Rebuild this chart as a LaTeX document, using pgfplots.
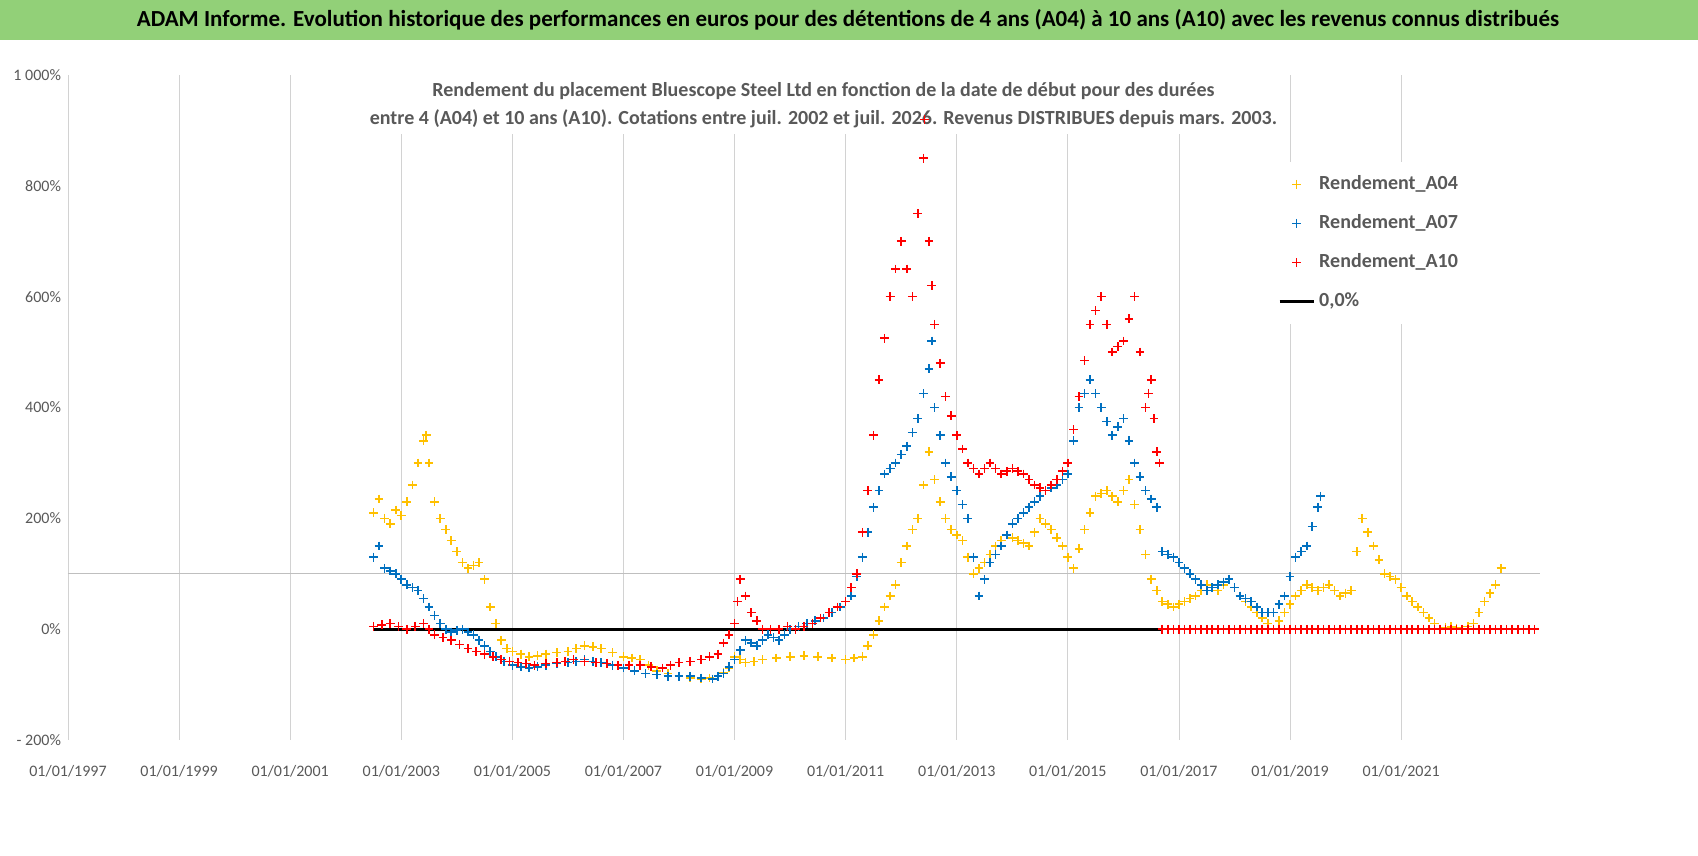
\documentclass[border=0pt]{standalone}
\usepackage{pgfplots}
\pgfplotsset{compat=1.18}
\usepackage{fontspec}
\setmainfont{Carlito}
\definecolor{cA}{RGB}{255,192,0}
\definecolor{cB}{RGB}{0,112,192}
\definecolor{cC}{RGB}{255,0,0}
\definecolor{ban}{RGB}{146,208,120}
\definecolor{tg}{RGB}{89,89,89}
\begin{document}
\begin{tikzpicture}
\path[use as bounding box] (-34pt,-58pt) rectangle (815pt,370pt);
\fill[white] (-34pt,-58pt) rectangle (815pt,370pt);
\fill[ban] (-34pt,350pt) rectangle (815pt,370pt);
\node[font=\bfseries\fontsize{11.5}{13}\selectfont] at (390pt,360pt) {ADAM Informe. Evolution historique des performances en euros pour des détentions de 4 ans (A04) à 10 ans (A10) avec les revenus connus distribués};
\begin{axis}[at={(0,0)},anchor=south west,scale only axis,width=736pt,height=332.5pt,
 xmin=1997,xmax=2023.5,ymin=-200,ymax=1000,
 axis line style={draw=none},tick style={draw=none},
 xtick={1997,1999,...,2021},xticklabels={01/01/1997,01/01/1999,01/01/2001,01/01/2003,01/01/2005,01/01/2007,01/01/2009,01/01/2011,01/01/2013,01/01/2015,01/01/2017,01/01/2019,01/01/2021},
 xmajorgrids,grid style={gray!35},
 ytick={-200,0,200,400,600,800,1000},yticklabels={- 200\%,0\%,200\%,400\%,600\%,800\%,1 000\%},
 ticklabel style={font=\fontsize{8}{9}\selectfont,text=tg},
 xticklabel style={yshift=-9pt},
 /pgf/number format/assume math mode=true,
 legend style={at={(0.815,0.87)},anchor=north west,draw=none,fill=white,font=\bfseries\fontsize{10}{12}\selectfont,text=tg,row sep=7pt,inner sep=5pt},
 legend cell align=left,
 clip=false]
\node[fill=white,align=center,font=\bfseries\fontsize{10}{14}\selectfont,text=tg,anchor=north] at (axis cs:2010.6,1000) {Rendement du placement Bluescope Steel Ltd en fonction de la date de début pour des durées\\entre 4 (A04) et 10 ans (A10). Cotations entre juil. 2002 et juil. 2026. Revenus DISTRIBUES depuis mars. 2003.};
\draw[gray!50] (axis cs:1997,100) -- (axis cs:2023.5,100);
\addplot[only marks,mark=+,mark size=2.2pt,thick,cA] coordinates {
(2002.5,210)(2002.6,235)(2002.7,200)(2002.8,190)(2002.9,215)(2003.0,205)(2003.1,230)(2003.2,260)(2003.3,300)(2003.4,340)(2003.45,350)(2003.5,300)(2003.6,230)(2003.7,200)(2003.8,180)(2003.9,160)(2004.0,140)(2004.1,120)(2004.2,110)(2004.3,115)(2004.4,120)(2004.5,90)(2004.6,40)(2004.7,10)(2004.8,-20)(2004.9,-35)(2005.0,-40)(2005.15,-45)(2005.3,-50)(2005.45,-48)(2005.6,-45)(2005.8,-42)(2006.0,-40)(2006.15,-35)(2006.3,-30)(2006.45,-32)(2006.6,-35)(2006.8,-42)(2007.0,-50)(2007.15,-52)(2007.3,-55)(2007.45,-65)(2007.6,-75)(2007.8,-80)(2008.0,-85)(2008.2,-88)(2008.4,-90)(2008.55,-88)(2008.7,-85)(2008.8,-78)(2008.9,-70)(2009.0,-50)(2009.1,-55)(2009.2,-60)(2009.35,-58)(2009.5,-55)(2009.75,-52)(2010.0,-50)(2010.25,-48)(2010.5,-50)(2010.75,-52)(2011.0,-55)(2011.15,-52)(2011.3,-50)(2011.4,-30)(2011.5,-10)(2011.6,15)(2011.7,40)(2011.8,60)(2011.9,80)(2012.0,120)(2012.1,150)(2012.2,180)(2012.3,200)(2012.4,260)(2012.5,320)(2012.6,270)(2012.7,230)(2012.8,200)(2012.9,180)(2013.0,170)(2013.1,160)(2013.2,130)(2013.3,100)(2013.4,110)(2013.5,120)(2013.6,135)(2013.7,150)(2013.8,160)(2013.9,170)(2014.0,165)(2014.1,160)(2014.2,155)(2014.3,150)(2014.4,175)(2014.5,200)(2014.6,190)(2014.7,180)(2014.8,165)(2014.9,150)(2015.0,130)(2015.1,110)(2015.2,145)(2015.3,180)(2015.4,210)(2015.5,240)(2015.6,245)(2015.7,250)(2015.8,240)(2015.9,230)(2016.0,250)(2016.1,270)(2016.2,225)(2016.3,180)(2016.4,135)(2016.5,90)(2016.6,70)(2016.7,50)(2016.8,45)(2016.9,40)(2017.0,45)(2017.1,50)(2017.2,55)(2017.3,60)(2017.4,70)(2017.5,80)(2017.6,75)(2017.7,70)(2017.8,80)(2017.9,90)(2018.0,75)(2018.1,60)(2018.2,50)(2018.3,40)(2018.4,30)(2018.5,20)(2018.6,10)(2018.7,0)(2018.8,15)(2018.9,30)(2019.0,45)(2019.1,60)(2019.2,70)(2019.3,80)(2019.4,75)(2019.5,70)(2019.6,75)(2019.7,80)(2019.8,70)(2019.9,60)(2020.0,65)(2020.1,70)(2020.2,140)(2020.3,200)(2020.4,175)(2020.5,150)(2020.6,125)(2020.7,100)(2020.8,95)(2020.9,90)(2021.0,75)(2021.1,60)(2021.2,50)(2021.3,40)(2021.4,30)(2021.5,20)(2021.6,10)(2021.7,0)(2021.8,3)(2021.9,5)(2022.0,2)(2022.1,0)(2022.2,5)(2022.3,10)(2022.4,30)(2022.5,50)(2022.6,65)(2022.7,80)(2022.8,110)};
\addlegendentry{Rendement\_A04}
\addplot[only marks,mark=+,mark size=2.2pt,thick,cB] coordinates {
(2002.5,130)(2002.6,150)(2002.7,110)(2002.8,105)(2002.9,100)(2003.0,90)(2003.1,80)(2003.2,75)(2003.3,70)(2003.4,55)(2003.5,40)(2003.6,25)(2003.7,10)(2003.8,0)(2003.9,-5)(2004.0,-2)(2004.1,0)(2004.2,-5)(2004.3,-10)(2004.4,-20)(2004.5,-30)(2004.6,-40)(2004.7,-50)(2004.85,-58)(2005.0,-65)(2005.15,-68)(2005.3,-70)(2005.45,-68)(2005.6,-65)(2005.8,-62)(2006.0,-60)(2006.15,-58)(2006.3,-55)(2006.45,-58)(2006.6,-60)(2006.8,-65)(2007.0,-70)(2007.2,-75)(2007.4,-80)(2007.6,-82)(2007.8,-85)(2008.0,-85)(2008.2,-85)(2008.4,-88)(2008.6,-90)(2008.7,-85)(2008.8,-80)(2008.9,-68)(2009.0,-55)(2009.1,-38)(2009.2,-20)(2009.3,-25)(2009.4,-30)(2009.5,-20)(2009.6,-10)(2009.7,-15)(2009.8,-20)(2009.9,-10)(2010.0,0)(2010.15,5)(2010.3,10)(2010.45,15)(2010.6,20)(2010.75,30)(2010.9,40)(2011.0,50)(2011.1,60)(2011.2,95)(2011.3,130)(2011.4,175)(2011.5,220)(2011.6,250)(2011.7,280)(2011.8,290)(2011.9,300)(2012.0,315)(2012.1,330)(2012.2,355)(2012.3,380)(2012.4,425)(2012.5,470)(2012.55,520)(2012.6,400)(2012.7,350)(2012.8,300)(2012.9,275)(2013.0,250)(2013.1,225)(2013.2,200)(2013.3,130)(2013.4,60)(2013.5,90)(2013.6,120)(2013.7,135)(2013.8,150)(2013.9,170)(2014.0,190)(2014.1,200)(2014.2,210)(2014.3,220)(2014.4,230)(2014.5,240)(2014.6,250)(2014.7,255)(2014.8,260)(2014.9,270)(2015.0,280)(2015.1,340)(2015.2,400)(2015.3,425)(2015.4,450)(2015.5,425)(2015.6,400)(2015.7,375)(2015.8,350)(2015.9,365)(2016.0,380)(2016.1,340)(2016.2,300)(2016.3,275)(2016.4,250)(2016.5,235)(2016.6,220)(2016.7,140)(2016.8,135)(2016.9,130)(2017.0,120)(2017.1,110)(2017.2,100)(2017.3,90)(2017.4,80)(2017.5,70)(2017.6,75)(2017.7,80)(2017.8,85)(2017.9,90)(2018.0,75)(2018.1,60)(2018.2,55)(2018.3,50)(2018.4,40)(2018.5,30)(2018.6,30)(2018.7,30)(2018.8,45)(2018.9,60)(2019.0,95)(2019.1,130)(2019.2,140)(2019.3,150)(2019.4,185)(2019.5,220)(2019.55,240)};
\addlegendentry{Rendement\_A07}
\addplot[only marks,mark=+,mark size=2.2pt,thick,cC] coordinates {
(2002.5,5)(2002.65,8)(2002.8,10)(2002.95,5)(2003.1,0)(2003.25,5)(2003.4,10)(2003.5,0)(2003.6,-10)(2003.75,-15)(2003.9,-20)(2004.05,-28)(2004.2,-35)(2004.35,-40)(2004.5,-45)(2004.65,-50)(2004.8,-55)(2004.95,-58)(2005.1,-60)(2005.25,-62)(2005.4,-65)(2005.6,-62)(2005.8,-60)(2005.95,-58)(2006.1,-55)(2006.3,-58)(2006.5,-60)(2006.7,-62)(2006.9,-65)(2007.1,-65)(2007.3,-65)(2007.5,-68)(2007.7,-70)(2007.85,-65)(2008.0,-60)(2008.2,-58)(2008.4,-55)(2008.55,-50)(2008.7,-45)(2008.8,-25)(2008.9,-10)(2009.0,10)(2009.05,50)(2009.1,90)(2009.2,60)(2009.3,30)(2009.4,15)(2009.5,0)(2009.65,0)(2009.8,0)(2009.95,5)(2010.1,0)(2010.25,5)(2010.4,10)(2010.55,20)(2010.7,30)(2010.85,40)(2011.0,50)(2011.1,75)(2011.2,100)(2011.3,175)(2011.4,250)(2011.5,350)(2011.6,450)(2011.7,525)(2011.8,600)(2011.9,650)(2012.0,700)(2012.1,650)(2012.2,600)(2012.3,750)(2012.4,850)(2012.42,920)(2012.5,700)(2012.55,620)(2012.6,550)(2012.7,480)(2012.8,420)(2012.9,385)(2013.0,350)(2013.1,325)(2013.2,300)(2013.3,290)(2013.4,280)(2013.5,290)(2013.6,300)(2013.7,290)(2013.8,280)(2013.9,285)(2014.0,290)(2014.1,285)(2014.2,280)(2014.3,270)(2014.4,260)(2014.5,255)(2014.6,250)(2014.7,260)(2014.8,270)(2014.9,285)(2015.0,300)(2015.1,360)(2015.2,420)(2015.3,485)(2015.4,550)(2015.5,575)(2015.6,600)(2015.7,550)(2015.8,500)(2015.9,510)(2016.0,520)(2016.1,560)(2016.2,600)(2016.3,500)(2016.4,400)(2016.45,425)(2016.5,450)(2016.55,380)(2016.6,320)(2016.65,300)
(2016.7,0)(2016.8,0)(2016.9,0)(2017.0,0)(2017.1,0)(2017.2,0)(2017.3,0)(2017.4,0)(2017.5,0)(2017.6,0)(2017.7,0)(2017.8,0)(2017.9,0)(2018.0,0)(2018.1,0)(2018.2,0)(2018.3,0)(2018.4,0)(2018.5,0)(2018.6,0)(2018.7,0)(2018.8,0)(2018.9,0)(2019.0,0)(2019.1,0)(2019.2,0)(2019.3,0)(2019.4,0)(2019.5,0)(2019.6,0)(2019.7,0)(2019.8,0)(2019.9,0)(2020.0,0)(2020.1,0)(2020.2,0)(2020.3,0)(2020.4,0)(2020.5,0)(2020.6,0)(2020.7,0)(2020.8,0)(2020.9,0)(2021.0,0)(2021.1,0)(2021.2,0)(2021.3,0)(2021.4,0)(2021.5,0)(2021.6,0)(2021.7,0)(2021.8,0)(2021.9,0)(2022.0,0)(2022.1,0)(2022.2,0)(2022.3,0)(2022.4,0)(2022.5,0)(2022.6,0)(2022.7,0)(2022.8,0)(2022.9,0)(2023.0,0)(2023.1,0)(2023.2,0)(2023.3,0)(2023.4,0)};
\addlegendentry{Rendement\_A10}
\addplot[black,line width=1.5pt] coordinates {(2002.5,0)(2016.7,0)};
\addlegendentry{0,0\%}
\end{axis}
\end{tikzpicture}
\end{document}
